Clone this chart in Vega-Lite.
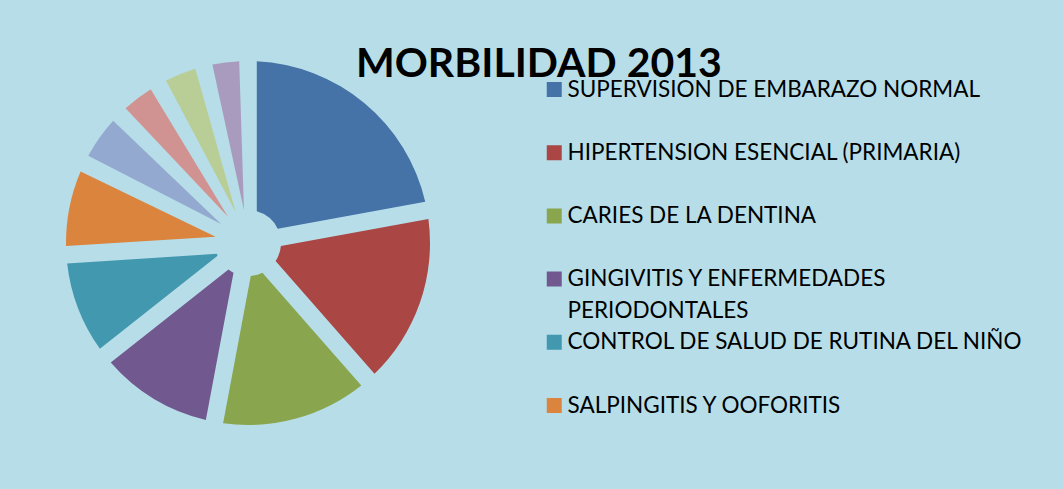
{
  "$schema": "https://vega.github.io/schema/vega-lite/v6.json",
  "width": 1063,
  "height": 489,
  "autosize": {"type": "fit", "contains": "padding"},
  "padding": {"left": 7, "top": 12, "right": 39, "bottom": 15},
  "background": "#B7DEE8",
  "title": {
    "text": "MORBILIDAD 2013",
    "font": "Lato",
    "fontSize": 41,
    "fontWeight": "bold",
    "color": "#000000",
    "anchor": "start",
    "frame": "group",
    "baseline": "alphabetic",
    "offset": -66,
    "dx": 349,
    "dy": 40
  },
  "data": {
    "values": [
      {"n": 1, "diagnostico": "SUPERVISION DE EMBARAZO NORMAL", "valor": 22.1},
      {"n": 2, "diagnostico": "HIPERTENSION ESENCIAL (PRIMARIA)", "valor": 16.4},
      {"n": 3, "diagnostico": "CARIES DE LA DENTINA", "valor": 14.4},
      {"n": 4, "diagnostico": "GINGIVITIS Y ENFERMEDADES PERIODONTALES", "valor": 11.4},
      {"n": 5, "diagnostico": "CONTROL DE SALUD DE RUTINA DEL NIÑO", "valor": 9.6},
      {"n": 6, "diagnostico": "SALPINGITIS Y OOFORITIS", "valor": 8.2},
      {"n": 7, "diagnostico": "INFECCION DE VIAS URINARIAS", "valor": 5.3},
      {"n": 8, "diagnostico": "RINOFARINGITIS AGUDA", "valor": 4.3},
      {"n": 9, "diagnostico": "VAGINITIS AGUDA", "valor": 4.3},
      {"n": 10, "diagnostico": "OBESIDAD", "valor": 3.9}
    ]
  },
  "mark": {"type": "arc", "outerRadius": 182, "innerRadius": 33, "padAngle": 0.095, "stroke": null},
  "encoding": {
    "theta": {"field": "valor", "type": "quantitative", "stack": true},
    "order": {"field": "n", "type": "quantitative"},
    "color": {
      "field": "diagnostico",
      "type": "nominal",
      "sort": null,
      "scale": {
        "domain": [
          "SUPERVISION DE EMBARAZO NORMAL",
          "HIPERTENSION ESENCIAL (PRIMARIA)",
          "CARIES DE LA DENTINA",
          "GINGIVITIS Y ENFERMEDADES PERIODONTALES",
          "CONTROL DE SALUD DE RUTINA DEL NIÑO",
          "SALPINGITIS Y OOFORITIS",
          "INFECCION DE VIAS URINARIAS",
          "RINOFARINGITIS AGUDA",
          "VAGINITIS AGUDA",
          "OBESIDAD",
          "_sep1",
          "_sep2",
          "_sep3",
          "PERIODONTALES",
          "_sep5"
        ],
        "range": ["#4572A7", "#AA4643", "#89A54E", "#71588F", "#4198AF", "#DB843D", "#93A9CF", "#D19392", "#B9CD96", "#A99BBD", "#B7DEE8", "#B7DEE8", "#B7DEE8", "#B7DEE8", "#B7DEE8"]
      },
      "legend": {
        "orient": "right",
        "offset": 54,
        "padding": 0,
        "title": " ",
        "titleFontSize": 1,
        "titlePadding": 65,
        "values": [
          "SUPERVISION DE EMBARAZO NORMAL",
          "_sep1",
          "HIPERTENSION ESENCIAL (PRIMARIA)",
          "_sep2",
          "CARIES DE LA DENTINA",
          "_sep3",
          "GINGIVITIS Y ENFERMEDADES PERIODONTALES",
          "PERIODONTALES",
          "CONTROL DE SALUD DE RUTINA DEL NIÑO",
          "_sep5",
          "SALPINGITIS Y OOFORITIS"
        ],
        "labelExpr": "datum.label == 'GINGIVITIS Y ENFERMEDADES PERIODONTALES' ? 'GINGIVITIS Y ENFERMEDADES' : (indexof(datum.label, '_sep') == 0 ? ' ' : datum.label)",
        "symbolType": "square",
        "symbolSize": 225,
        "symbolStrokeWidth": 0,
        "labelFont": "Lato",
        "labelFontSize": 22.5,
        "labelColor": "#000000",
        "labelOffset": 2,
        "labelLimit": 600,
        "clipHeight": 23,
        "rowPadding": 8.6
      }
    }
  },
  "config": {
    "view": {"stroke": null}
  }
}
